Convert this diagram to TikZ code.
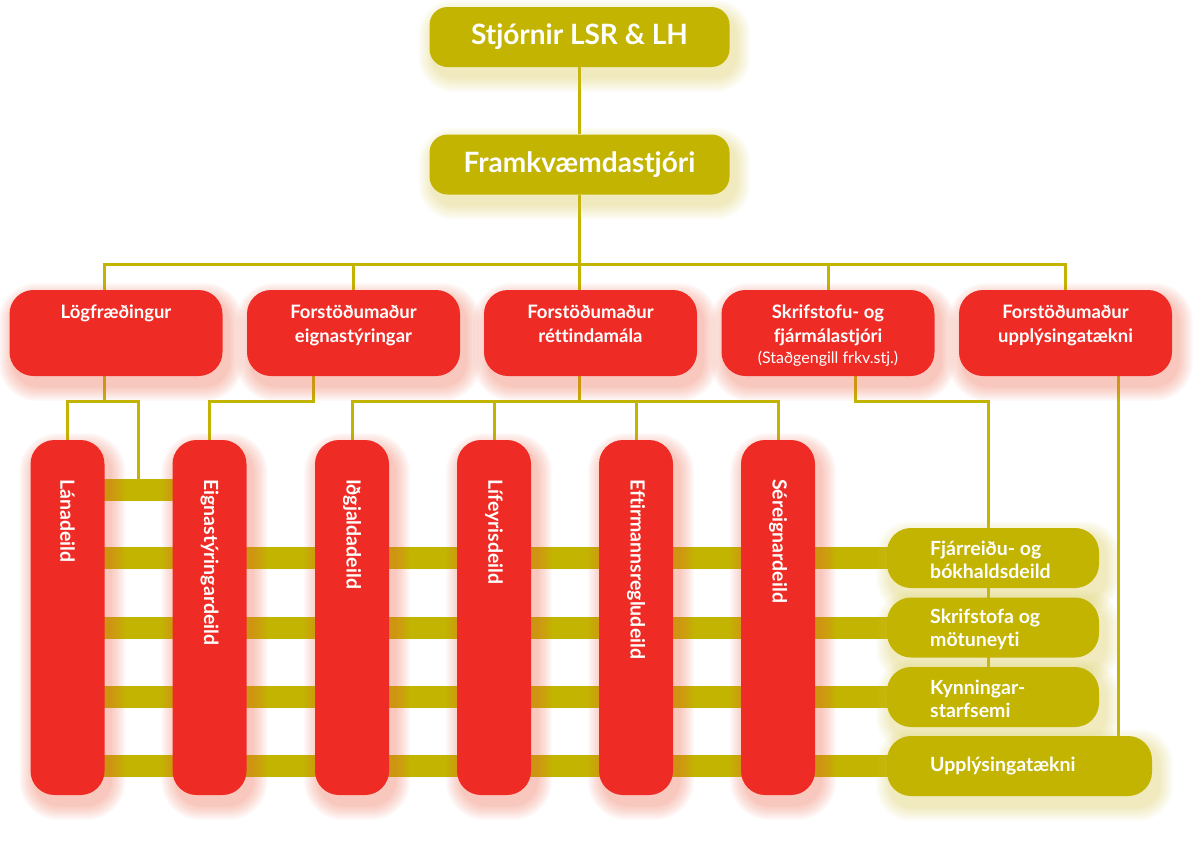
\documentclass[tikz,border=0pt]{standalone}
\usepackage{fontspec}
\setmainfont{Lato}[Ligatures={NoCommon}]
\usetikzlibrary{calc}
\definecolor{gold}{HTML}{C2B400}
\definecolor{lred}{HTML}{EE2B25}
\definecolor{shred}{HTML}{F06040}
\definecolor{shgold}{HTML}{D8C840}
\pgfdeclarelayer{bg}
\pgfdeclarelayer{lines}
\pgfdeclarelayer{shadow}
\pgfsetlayers{bg,lines,shadow,main}
\newcommand\boxshadow[3]{%
  \foreach \i in {1,...,7}{%
    \pgfmathsetmacro\rr{#3+2*\i}%
    \fill[#2, opacity=0.055, rounded corners=\rr pt]
      ($(#1.north west)+(5-2.2*\i,9-2.2*\i)$) rectangle ($(#1.south east)+(5+2.2*\i,9+2.2*\i)$);
  }%
}
\tikzset{
  gbox/.style={fill=gold, draw=none, inner sep=0pt, rounded corners=18pt},
  rbox/.style={fill=lred, draw=none, inner sep=0pt, rounded corners=24pt},
  topfont/.style={text=white, font=\fontsize{28}{32}\selectfont\bfseries},
  htext/.style={text=white, inner sep=0pt, align=center, font=\fontsize{18.5}{24}\selectfont\bfseries},
  ctext/.style={text=white, inner sep=0pt, rotate=-90, anchor=west, font=\fontsize{19.5}{22}\selectfont\bfseries},
  gtext/.style={text=white, inner sep=0pt, align=left, anchor=west, font=\fontsize{19.5}{23}\selectfont\bfseries},
  conn/.style={draw=gold, line width=3pt},
  bar/.style={draw=gold, line width=22pt},
}
\begin{document}
\begin{tikzpicture}[x=1pt,y=-1pt]
\begin{pgfonlayer}{bg}
\fill[white] (0,0) rectangle (1197,847);
\end{pgfonlayer}
\useasboundingbox (0,0) rectangle (1197,847);

% top
\node[gbox, minimum width=300, minimum height=60, topfont] (stj) at (579.5,37) {Stjórnir LSR \& LH};
\node[gbox, minimum width=300, minimum height=60, topfont] (frk) at (579.5,164.5) {Framkvæmdastjóri};

% headers
\foreach \n/\x in {h1/116, h2/353.5, h3/590.5, h4/828, h5/1065.5}{
  \node[rbox, minimum width=213, minimum height=86] (\n) at (\x,333) {};
}
\node[htext, anchor=north] (h1t) at ($(h1.north)+(0,15)$) {Lögfræðingur};
\node[htext, anchor=north] (h2t) at ($(h2.north)+(0,15)$) {Forstöðumaður\\eignastýringar};
\node[htext, anchor=north] (h3t) at ($(h3.north)+(0,15)$) {Forstöðumaður\\réttindamála};
\node[htext, anchor=north] (h4t) at ($(h4.north)+(0,15)$) {Skrifstofu- og\\fjármálastjóri\\[-3pt]{\fontsize{16}{18}\selectfont\mdseries (Staðgengill frkv.stj.)}};
\node[htext, anchor=north] (h5t) at ($(h5.north)+(0,15)$) {Forstöðumaður\\upplýsingatækni};

% columns
\foreach \n/\x/\t in {c1/67.5/Lánadeild, c2/209.5/Eignastýringardeild, c3/352/Iðgjaldadeild, c4/494/Lífeyrisdeild, c5/636/Eftirmannsregludeild, c6/778/Séreignardeild}{
  \node[rbox, minimum width=74, minimum height=355] (\n) at (\x,617.5) {};
  \node[ctext] (\n t) at (\x,479) {\t};
}

% green boxes
\node[gbox, rounded corners=24pt, minimum width=212, minimum height=60] (g1) at (993,558) {};
\node[gbox, rounded corners=24pt, minimum width=212, minimum height=60] (g2) at (993,627.5) {};
\node[gbox, rounded corners=24pt, minimum width=212, minimum height=60] (g3) at (993,697) {};
\node[gbox, rounded corners=24pt, minimum width=265, minimum height=60] (g4) at (1019.5,766) {};
\node[gtext] (g1t) at (930,560) {Fjárreiðu- og\\bókhaldsdeild};
\node[gtext] (g2t) at (930,629.5) {Skrifstofa og\\mötuneyti};
\node[gtext] (g3t) at (930,699) {Kynningar-\\starfsemi};
\node[gtext] (g4t) at (930,766) {Upplýsingatækni};

% shadows
\begin{pgfonlayer}{shadow}
\foreach \n in {h1,h2,h3,h4,h5,c1,c2,c3,c4,c5,c6}{\boxshadow{\n}{shred}{24}}
\foreach \n in {stj,frk,g1,g2,g3,g4}{\boxshadow{\n}{shgold}{20}}
\end{pgfonlayer}

% connectors
\begin{pgfonlayer}{lines}
\coordinate (bus) at (579.5,264);
\draw[conn] (stj.south) -- (frk.north);
\draw[conn] (frk.south) -- (frk.south |- h3.north);
\draw[conn] (bus) -| ([xshift=-12pt]h1.north);
\draw[conn] (bus) -| (h2.north);
\draw[conn] (bus) -| (h4.north);
\draw[conn] (bus) -| (h5.north);
% below Lögfræðingur
\coordinate (bar1) at (138.5,490);
\draw[conn] ([xshift=-12pt]h1.south) -- ++(0,25) coordinate (j1);
\draw[conn] (c1.north) |- (j1) -| (bar1);
% below eignastýring
\draw[conn] ([xshift=-40.5pt]h2.south) -- ++(0,25) -| (c2.north);
% below réttindamála
\draw[conn] (h3.south -| frk.south) -- ++(0,25) coordinate (j3);
\draw[conn] (c3.north) |- (j3) -| (c6.north);
\draw[conn] (c4.north) -- (c4.north |- j3);
\draw[conn] (c5.north) -- (c5.north |- j3);
% below skrifstofu
\draw[conn] ([xshift=27pt]h4.south) -- ++(0,25) -| ([xshift=-4.5pt]g3.center);
% below upplýsingatækni
\draw[conn] ([xshift=52.5pt]h5.south) -- ([xshift=52.5pt]h5.south |- g4.north);
% thick bars
\draw[bar] (c1.center |- bar1) -- (c2.center |- bar1);
\foreach \g in {g1,g2,g3,g4}{\draw[bar] (c1.center |- \g.center) -- (\g.center);}
\end{pgfonlayer}
\end{tikzpicture}
\end{document}
